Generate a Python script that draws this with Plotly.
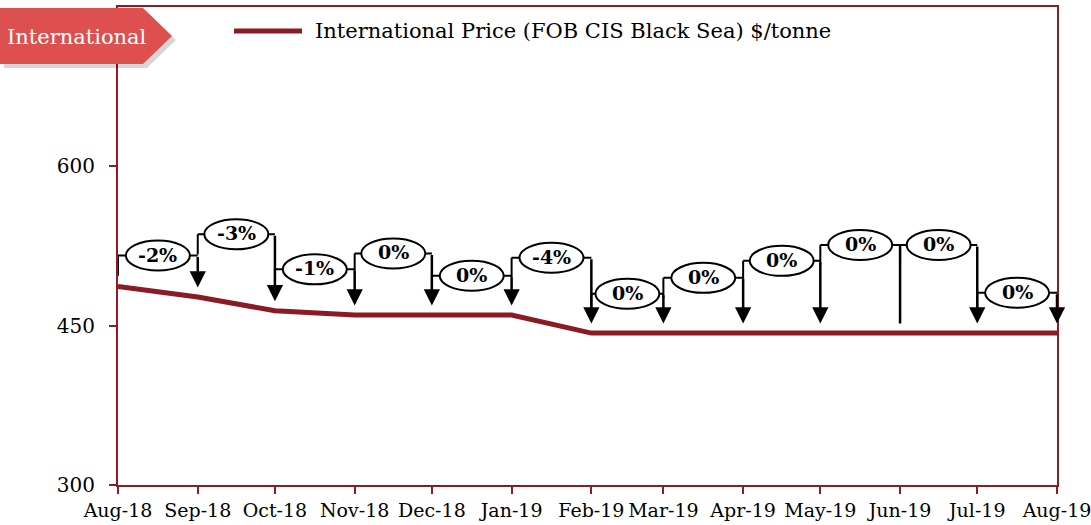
import pandas as pd
import plotly.graph_objects as go

# ---------------- data ----------------
months = pd.date_range('2018-08-01', periods=13, freq='MS')
month_labels = ['Aug-18', 'Sep-18', 'Oct-18', 'Nov-18', 'Dec-18', 'Jan-19', 'Feb-19',
                'Mar-19', 'Apr-19', 'May-19', 'Jun-19', 'Jul-19', 'Aug-19']
prices = [487, 477, 464, 460, 460, 460, 443, 443, 443, 443, 443, 443, 443]
pct_change = ['-2%', '-3%', '-1%', '0%', '0%', '-4%', '0%', '0%', '0%', '0%', '0%', '0%']
y_ticks = [300, 450, 600]

# ---------------- layout helpers (positions of the bracket callouts) ----------------
bracket_levels = [516, 536, 503, 518, 497, 514, 480, 495, 511, 526, 526, 481]
arrow_heads = [True] * 9 + [False] + [True] * 2

W, H = 1091, 525
L, R, T, B = 118, 1057, 7, 485
LINE_COL = '#8B1A24'
AX_COL = '#8E1C22'
FONT = 'DejaVu Serif'


def px(xp):
    return (xp - L) / (R - L)


def py(yp):
    return (B - yp) / (B - T)


def ds(d):
    return pd.Timestamp(d).strftime('%Y-%m-%d %H:%M:%S')


fig = go.Figure()
fig.add_trace(go.Scatter(x=months, y=prices, mode='lines',
                         line=dict(color=LINE_COL, width=5),
                         name='International Price (FOB CIS Black Sea) $/tonne',
                         showlegend=False, hoverinfo='x+y'))

shapes = []
annotations = []

for i, lab in enumerate(pct_change):
    x0, x1 = months[i], months[i + 1]
    mid = x0 + (x1 - x0) / 2
    lvl = bracket_levels[i]
    # left stub
    shapes.append(dict(type='line', xref='x', yref='y', x0=ds(x0), x1=ds(x0),
                       y0=lvl, y1=lvl - 19, line=dict(color='black', width=2)))
    # horizontal
    shapes.append(dict(type='line', xref='x', yref='y', x0=ds(x0), x1=ds(x1),
                       y0=lvl, y1=lvl, line=dict(color='black', width=2)))
    # ellipse
    shapes.append(dict(type='circle', xref='x', yref='y', xsizemode='pixel', ysizemode='pixel',
                       xanchor=ds(mid), yanchor=lvl, x0=-32, x1=32, y0=-15, y1=15,
                       fillcolor='white', line=dict(color='black', width=2), layer='above'))
    annotations.append(dict(x=ds(mid), y=lvl, xref='x', yref='y', text='<b>%s</b>' % lab,
                            showarrow=False, font=dict(family=FONT, size=19, color='black'),
                            yshift=1))
    # arrow down to the price line
    annotations.append(dict(x=ds(x1), y=prices[i + 1] + 9, xref='x', yref='y',
                            ax=0, axref='pixel', ay=lvl, ayref='y', text='',
                            showarrow=True, arrowhead=2 if arrow_heads[i] else 0,
                            arrowwidth=2.5, arrowsize=1.3, arrowcolor='black'))

# "International" tag with shadow
def tag_path(dx=0, dy=0):
    pts = [(0, 8), (143, 8), (172, 36), (143, 64), (0, 64)]
    return 'M ' + ' L '.join('%f,%f' % (px(a + dx), py(b + dy)) for a, b in pts) + ' Z'

shapes.append(dict(type='path', xref='paper', yref='paper', path=tag_path(4, 4),
                   fillcolor='rgba(0,0,0,0.16)', line=dict(width=0), layer='above'))
shapes.append(dict(type='path', xref='paper', yref='paper', path=tag_path(),
                   fillcolor='#DE5050', line=dict(width=0), layer='above'))
annotations.append(dict(x=px(77), y=py(37), xref='paper', yref='paper', text='International',
                        showarrow=False, font=dict(family=FONT, size=21, color='white'),
                        xanchor='center', yanchor='middle'))

# legend
shapes.append(dict(type='line', xref='paper', yref='paper', x0=px(234), x1=px(302),
                   y0=py(31), y1=py(31), line=dict(color=LINE_COL, width=5)))
annotations.append(dict(x=px(313), y=py(31), xref='paper', yref='paper',
                        text='International Price (FOB CIS Black Sea) $/tonne',
                        showarrow=False, xanchor='left', yanchor='middle',
                        font=dict(family=FONT, size=21, color='black')))

fig.update_layout(
    width=W, height=H,
    margin=dict(l=L, r=W - R, t=T, b=H - B, pad=0, autoexpand=False),
    plot_bgcolor='white', paper_bgcolor='white',
    shapes=shapes, annotations=annotations,
    showlegend=False,
    font=dict(family=FONT, color='black'),
)
fig.update_xaxes(type='date', range=[ds(months[0]), ds(months[-1])],
                 tickvals=list(months), ticktext=month_labels,
                 showgrid=False, zeroline=False, automargin=False,
                 showline=True, linecolor=AX_COL, linewidth=2, mirror=True,
                 ticks='outside', ticklen=7, tickcolor=AX_COL, tickwidth=2,
                 ticklabeloverflow='allow',
                 tickfont=dict(family=FONT, size=19, color='black'))
fig.update_yaxes(range=[300, 750], tickvals=y_ticks,
                 showgrid=False, zeroline=False, automargin=False,
                 showline=True, linecolor=AX_COL, linewidth=2, mirror=True,
                 ticks='outside', ticklen=7, tickcolor=AX_COL, tickwidth=2,
                 ticklabelstandoff=10,
                 tickfont=dict(family=FONT, size=20, color='black'))

fig.write_html('out.html', config={'displayModeBar': False},
               post_script="document.body.style.margin='0';document.body.style.overflow='hidden';")
